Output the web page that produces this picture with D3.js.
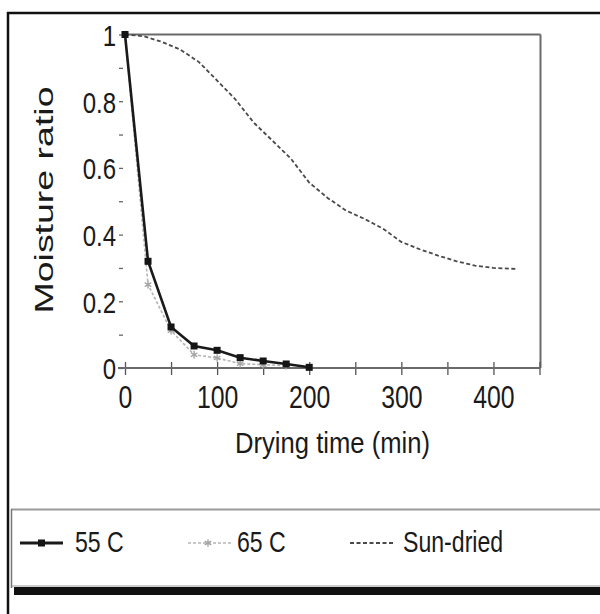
<!DOCTYPE html>
<html>
<head>
<meta charset="utf-8">
<script src="https://cdn.jsdelivr.net/npm/d3@7"></script>
<style>
  html, body { margin: 0; padding: 0; background: #fff; }
  svg { display: block; font-family: "Liberation Sans", Arial, Helvetica, sans-serif; }
</style>
</head>
<body>
<svg id="chart" width="600" height="614"></svg>
<script>
// Drying curves: moisture ratio against drying time
const times55 = [0, 25, 50, 75, 100, 125, 150, 175, 200];
const ratio55 = [1, 0.32, 0.123, 0.066, 0.053, 0.031, 0.021, 0.012, 0.002];

const times65 = [0, 25, 50, 75, 100, 125, 150, 175];
const ratio65 = [1, 0.25, 0.112, 0.04, 0.03, 0.013, 0.01, 0.007];

const timesSun = [0, 20, 40, 60, 80, 100, 120, 140, 160, 180, 200, 220, 240, 260, 280, 300, 320, 340, 360, 380, 400, 425];
const ratioSun = [1, 0.995, 0.978, 0.955, 0.918, 0.862, 0.805, 0.735, 0.682, 0.628, 0.556, 0.51, 0.472, 0.447, 0.418, 0.378, 0.356, 0.337, 0.32, 0.307, 0.3, 0.297];

const seriesNames = ["55 C", "65 C", "Sun-dried"];

const xTicks = [0, 50, 100, 150, 200, 250, 300, 350, 400, 450];
const xTickLabels = ["0", "", "100", "", "200", "", "300", "", "400", ""];
const yTicks = [0, 0.1, 0.2, 0.3, 0.4, 0.5, 0.6, 0.7, 0.8, 0.9, 1];
const yTickLabels = ["0", "", "0.2", "", "0.4", "", "0.6", "", "0.8", "", "1"];

const xTitle = "Drying time (min)";
const yTitle = "Moisture ratio";

const svg = d3.select("#chart");

const x = d3.scaleLinear().domain([0, 450]).range([125, 539.5]);
const y = d3.scaleLinear().domain([0, 1]).range([368, 34.5]);

// squeeze text horizontally to a narrow face
function condense(sel, factor) {
  sel.each(function () {
    const t = d3.select(this);
    if (!t.text()) return;
    const w = this.getComputedTextLength();
    t.attr("textLength", w * factor).attr("lengthAdjust", "spacingAndGlyphs");
  });
}

// outer frame
svg.append("line").attr("x1", 7).attr("x2", 600).attr("y1", 13).attr("y2", 13)
  .attr("stroke", "#111").attr("stroke-width", 2.5);
svg.append("line").attr("x1", 8).attr("x2", 8).attr("y1", 12).attr("y2", 614)
  .attr("stroke", "#111").attr("stroke-width", 2.5);

// plot frame (top and right)
svg.append("line").attr("x1", x(0)).attr("x2", x(450) + 1).attr("y1", y(1)).attr("y2", y(1))
  .attr("stroke", "#6a6a6a").attr("stroke-width", 2);
svg.append("line").attr("x1", x(450) + 1).attr("x2", x(450) + 1).attr("y1", y(1)).attr("y2", y(0))
  .attr("stroke", "#6a6a6a").attr("stroke-width", 2);

// x axis
const xAxis = d3.axisBottom(x).tickValues(xTicks).tickSize(6)
  .tickFormat((d, i) => xTickLabels[i]);
const gx = svg.append("g").attr("transform", `translate(0,${y(0)})`).call(xAxis);
gx.select(".domain").remove();
gx.append("line").attr("x1", 118).attr("x2", x(450) + 1).attr("y1", 0).attr("y2", 0)
  .attr("stroke", "#6a6a6a").attr("stroke-width", 2);
gx.selectAll(".tick line").attr("y1", -6).attr("y2", 7).attr("stroke", "#555").attr("stroke-width", 1.3);
gx.selectAll(".tick text").attr("y", 40).attr("dy", null)
  .attr("font-size", 31).attr("fill", "#1a1a1a")
  .style("font-family", "'Liberation Sans', Arial, sans-serif");
condense(gx.selectAll(".tick text"), 0.8);

// y axis (ticks only)
const yAxis = d3.axisLeft(y).tickValues(yTicks).tickSize(4)
  .tickFormat((d, i) => yTickLabels[i]);
const gy = svg.append("g").attr("transform", `translate(123,0)`).call(yAxis);
gy.select(".domain").remove();
gy.selectAll(".tick line").attr("stroke", "#666").attr("stroke-width", 1.3);
gy.selectAll(".tick text").attr("x", -7).attr("dy", "0.36em")
  .attr("font-size", 30).attr("fill", "#1a1a1a")
  .style("font-family", "'Liberation Sans', Arial, sans-serif");
condense(gy.selectAll(".tick text"), 0.8);

// axis titles
const xt = svg.append("text").attr("x", 332.5).attr("y", 453).attr("text-anchor", "middle")
  .attr("font-size", 30).attr("fill", "#1a1a1a").text(xTitle)
  .attr("textLength", 195).attr("lengthAdjust", "spacingAndGlyphs");
svg.append("text").attr("transform", "translate(53,200) rotate(-90)").attr("text-anchor", "middle")
  .attr("font-size", 26).attr("fill", "#1a1a1a").text(yTitle)
  .attr("textLength", 227).attr("lengthAdjust", "spacingAndGlyphs");

// series
const line = d3.line().x(d => x(d[0])).y(d => y(d[1]));
const sun = timesSun.map((t, i) => [t, ratioSun[i]]);
const s65 = times65.map((t, i) => [t, ratio65[i]]);
const s55 = times55.map((t, i) => [t, ratio55[i]]);

svg.append("path").datum(sun).attr("d", line).attr("fill", "none")
  .attr("stroke", "#4a4a4a").attr("stroke-width", 1.8).attr("stroke-dasharray", "4,2.5");

svg.append("path").datum(s65).attr("d", line).attr("fill", "none")
  .attr("stroke", "#b5b5b5").attr("stroke-width", 1.6).attr("stroke-dasharray", "3,2");

const star = d3.symbol().type(d3.symbolAsterisk).size(40);
function starMarks(g, pts) {
  g.selectAll("path.m65").data(pts).join("path").attr("class", "m65")
    .attr("d", star).attr("transform", d => `translate(${x(d[0])},${y(d[1])})`)
    .attr("fill", "none").attr("stroke", "#a5a5a5").attr("stroke-width", 1.4);
}
starMarks(svg.append("g"), s65);

svg.append("path").datum(s55).attr("d", line).attr("fill", "none")
  .attr("stroke", "#1a1a1a").attr("stroke-width", 2.6);
svg.append("g").selectAll("rect").data(s55).join("rect")
  .attr("x", d => x(d[0]) - 3.5).attr("y", d => y(d[1]) - 3.5)
  .attr("width", 7).attr("height", 7).attr("fill", "#151515");

// legend box
svg.append("line").attr("x1", 11).attr("x2", 600).attr("y1", 509.5).attr("y2", 509.5)
  .attr("stroke", "#9a9a9a").attr("stroke-width", 2.2);
svg.append("line").attr("x1", 11.5).attr("x2", 11.5).attr("y1", 509).attr("y2", 588)
  .attr("stroke", "#777").attr("stroke-width", 1.5);
svg.append("line").attr("x1", 12).attr("x2", 600).attr("y1", 586).attr("y2", 586)
  .attr("stroke", "#999").attr("stroke-width", 1);
svg.append("rect").attr("x", 14).attr("y", 587).attr("width", 586).attr("height", 8).attr("fill", "#111");

const legendY = 543;
const legendX = [20, 188, 350];
const lg = svg.append("g");

// 55 C
lg.append("line").attr("x1", legendX[0]).attr("x2", legendX[0] + 43).attr("y1", legendY).attr("y2", legendY)
  .attr("stroke", "#1a1a1a").attr("stroke-width", 2.8);
lg.append("rect").attr("x", legendX[0] + 21.5 - 3.5).attr("y", legendY - 3.5).attr("width", 7).attr("height", 7).attr("fill", "#151515");
// 65 C
lg.append("line").attr("x1", legendX[1]).attr("x2", legendX[1] + 43).attr("y1", legendY).attr("y2", legendY)
  .attr("stroke", "#b5b5b5").attr("stroke-width", 1.6).attr("stroke-dasharray", "3,2");
lg.append("path").attr("d", star).attr("transform", `translate(${legendX[1] + 20},${legendY})`)
  .attr("fill", "none").attr("stroke", "#a5a5a5").attr("stroke-width", 1.4);
// Sun-dried
lg.append("line").attr("x1", legendX[2]).attr("x2", legendX[2] + 43).attr("y1", legendY).attr("y2", legendY)
  .attr("stroke", "#4a4a4a").attr("stroke-width", 1.8).attr("stroke-dasharray", "4,2.5");

const legendTextX = [75, 237, 403];
const lt = lg.selectAll("text.lt").data(seriesNames).join("text").attr("class", "lt")
  .attr("x", (d, i) => legendTextX[i]).attr("y", 552)
  .attr("font-size", 30).attr("fill", "#1a1a1a").text(d => d);
condense(lt, 0.77);
</script>
</body>
</html>
